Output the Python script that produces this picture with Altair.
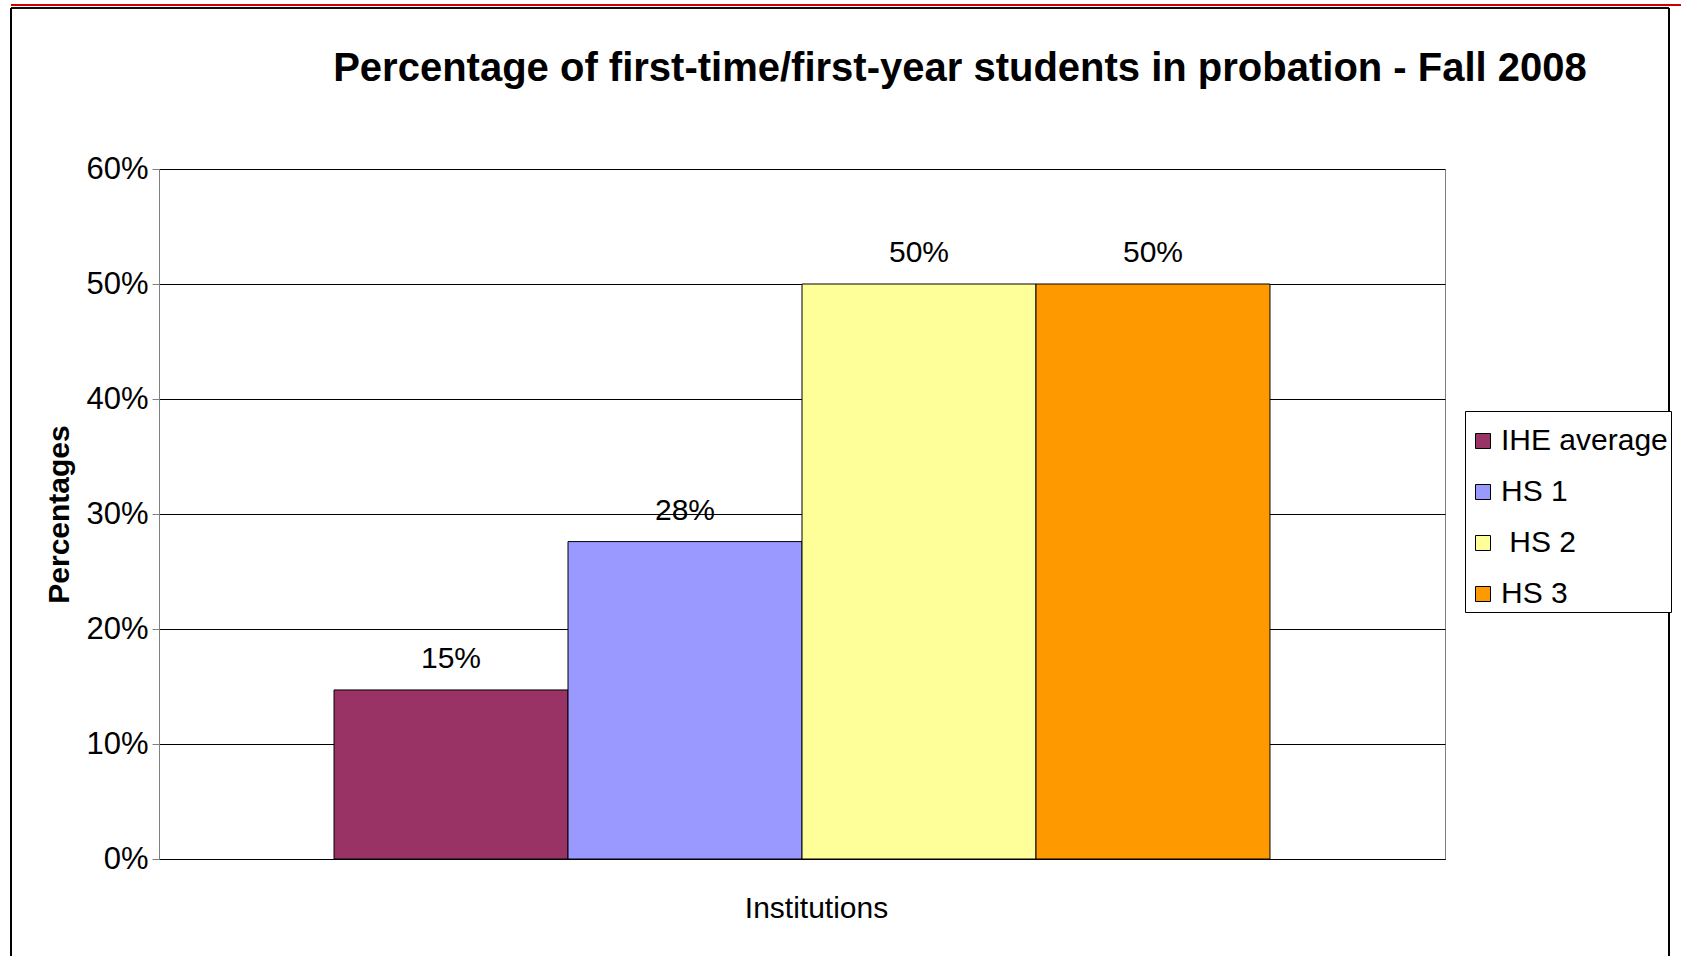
import altair as alt
import pandas as pd

series = ["IHE average", "HS 1", "\u200b\u00a0HS 2", "HS 3"]
values = [0.147, 0.276, 0.50, 0.50]
colors = ["#993366", "#9999FF", "#FFFF99", "#FF9900"]
y_ticks = [0, 0.1, 0.2, 0.3, 0.4, 0.5, 0.6]

df = pd.DataFrame({"series": series, "value": values})

FONT = "Liberation Sans"

x_enc = alt.X(
    "series:N",
    sort=series,
    scale=alt.Scale(paddingInner=0, paddingOuter=0.748),
    axis=alt.Axis(
        title="Institutions",
        labels=False,
        ticks=False,
        domainColor="#000000",
        domainWidth=1,
        titleFont=FONT,
        titleFontSize=30,
        titleFontWeight="normal",
        titleColor="#000000",
        titleX=657,
        titleY=49,
        titleBaseline="middle",
        titleAlign="center",
    ),
)

y_enc = alt.Y(
    "value:Q",
    scale=alt.Scale(domain=[0, 0.6], nice=False),
    axis=alt.Axis(
        title="Percentages",
        values=y_ticks,
        format=".0%",
        grid=True,
        gridColor="#000000",
        gridWidth=1,
        domainColor="#808080",
        tickColor="#808080",
        tickSize=7,
        labelPadding=4,
        labelFont=FONT,
        labelFontSize=31,
        labelColor="#000000",
        titleFont=FONT,
        titleFontSize=30,
        titleFontWeight="bold",
        titleColor="#000000",
        titleX=-100,
        titleY=345,
        titleAngle=270,
        titleBaseline="middle",
        titleAlign="center",
    ),
)

bars = alt.Chart(df).mark_bar(stroke="#000000", strokeWidth=1).encode(
    x=x_enc,
    y=y_enc,
    color=alt.Color(
        "series:N",
        sort=series,
        scale=alt.Scale(domain=series, range=colors),
        legend=alt.Legend(
            title="\u00a0",
            titleFontSize=12,
            titlePadding=0,
            orient="none",
            legendX=1306,
            legendY=242,
            symbolType="square",
            symbolSize=225,
            symbolStrokeColor="#000000",
            symbolStrokeWidth=1,
            labelFont=FONT,
            labelFontSize=30,
            labelColor="#000000",
            labelOffset=3,
            labelLimit=400,
            rowPadding=21,
            padding=3,
            strokeColor="#000000",
            fillColor="#FFFFFF",
        ),
    ),
)

labels = alt.Chart(df).mark_text(
    font=FONT, fontSize=30, color="#000000", baseline="alphabetic", dy=-22
).encode(
    x=alt.X("series:N", sort=series),
    y="value:Q",
    text=alt.Text("value:Q", format=".0%"),
)

# decorative slide frame around the chart
frame_left = alt.Chart(df).mark_rule(color="#000000", strokeWidth=2).encode(
    x=alt.value(-148), y=alt.value(-161), y2=alt.value(787)
)
frame_right = alt.Chart(df).mark_rule(color="#000000", strokeWidth=2).encode(
    x=alt.value(1510), y=alt.value(-161), y2=alt.value(787)
)
frame_top = alt.Chart(df).mark_rule(color="#000000", strokeWidth=1).encode(
    x=alt.value(-148), x2=alt.value(1510), y=alt.value(-161)
)
red_top = alt.Chart(df).mark_rule(color="#CC0000", strokeWidth=2).encode(
    x=alt.value(-148), x2=alt.value(1522), y=alt.value(-164)
)

chart = (
    alt.layer(bars, labels, frame_left, frame_right, frame_top, red_top)
    .properties(
        width=1286,
        height=690,
        autosize=alt.AutoSizeParams(type="none"),
        padding={"left": 159, "top": 169, "right": 240, "bottom": 97},
        title=alt.TitleParams(
            "Percentage of first-time/first-year students in probation - Fall 2008",
            font=FONT,
            fontSize=40,
            fontWeight="bold",
            color="#000000",
            anchor="middle",
            dx=158,
            offset=0,
            dy=117,
            baseline="alphabetic",
        ),
        background="#FFFFFF",
    )
    .configure_view(stroke="#808080", strokeWidth=1)
)

chart.save("out.html", embed_options={"renderer": "svg", "actions": False})
